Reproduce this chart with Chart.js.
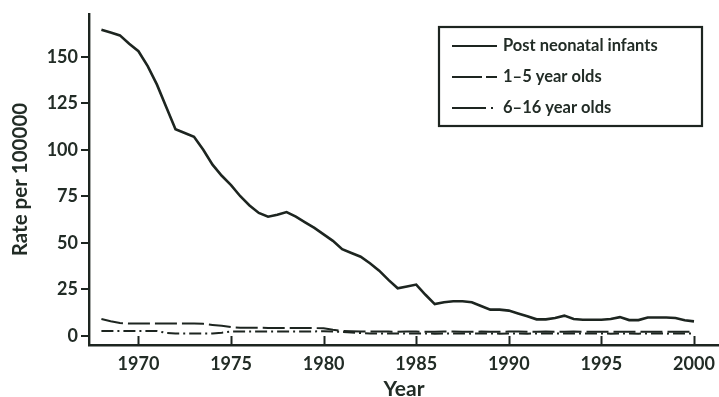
<!DOCTYPE html>
<html>
<head>
<meta charset="utf-8">
<script src="https://cdn.jsdelivr.net/npm/chart.js@4"></script>
<style>
  html, body { margin: 0; padding: 0; background: #ffffff; }
  #wrap { width: 719px; height: 397px; position: relative; }
</style>
</head>
<body>
<div id="wrap"><canvas id="c" width="719" height="397"></canvas></div>
<script>
// Half-yearly time points
const years = [
  1968.0, 1968.5, 1969.0, 1969.5, 1970.0, 1970.5, 1971.0, 1971.5, 1972.0, 1972.5,
  1973.0, 1973.5, 1974.0, 1974.5, 1975.0, 1975.5, 1976.0, 1976.5, 1977.0, 1977.5,
  1978.0, 1978.5, 1979.0, 1979.5, 1980.0, 1980.5, 1981.0, 1981.5, 1982.0, 1982.5,
  1983.0, 1983.5, 1984.0, 1984.5, 1985.0, 1985.5, 1986.0, 1986.5, 1987.0, 1987.5,
  1988.0, 1988.5, 1989.0, 1989.5, 1990.0, 1990.5, 1991.0, 1991.5, 1992.0, 1992.5,
  1993.0, 1993.5, 1994.0, 1994.5, 1995.0, 1995.5, 1996.0, 1996.5, 1997.0, 1997.5,
  1998.0, 1998.5, 1999.0, 1999.5, 2000.0
];

// Rate per 100000
const postNeonatal = [
  164.5, 163, 161.5, 157, 153, 145, 135, 123, 111, 109,
  107, 100, 92, 86, 81, 75, 70, 66, 64, 65,
  66.5, 64, 61, 58, 54.5, 51, 46.5, 44.5, 42.5, 39,
  35, 30, 25.5, 26.5, 27.5, 22, 17, 18, 18.5, 18.5,
  18, 16, 14, 14, 13.5, 12, 10.5, 8.8, 8.8, 9.5,
  10.8, 9, 8.6, 8.6, 8.6, 9, 10, 8.4, 8.4, 9.8,
  9.8, 9.8, 9.5, 8.3, 7.7
];

const oneToFive = [
  9, 7.8, 6.8, 6.5, 6.5, 6.5, 6.5, 6.5, 6.5, 6.5,
  6.5, 6.4, 5.8, 5.3, 4.6, 4.3, 4.3, 4.3, 4.2, 4.2,
  4.2, 4.2, 4.1, 4.1, 4.0, 3.2, 2.6, 2.4, 2.3, 2.2,
  2.2, 2.2, 2.1, 2.2, 2.2, 2.1, 2.1, 2.2, 2.2, 2.1,
  2.1, 2.2, 2.1, 2.1, 2.2, 2.2, 2.1, 2.1, 2.2, 2.1,
  2.1, 2.2, 2.1, 2.1, 2.1, 2.2, 2.1, 2.1, 2.2, 2.1,
  2.1, 2.2, 2.1, 2.1, 2.2
];

const sixToSixteen = [
  2.5, 2.5, 2.5, 2.5, 2.5, 2.5, 2.5, 1.5, 1.2, 1.2,
  1.2, 1.2, 1.2, 1.6, 2.2, 2.2, 2.2, 2.2, 2.2, 2.2,
  2.2, 2.2, 2.2, 2.3, 2.4, 2.3, 2.0, 1.7, 1.4, 1.2,
  1.2, 1.2, 1.2, 1.1, 1.2, 1.2, 1.1, 1.2, 1.2, 1.2,
  1.1, 1.2, 1.2, 1.1, 1.2, 1.2, 1.1, 1.2, 1.2, 1.1,
  1.2, 1.2, 1.1, 1.2, 1.2, 1.1, 1.2, 1.2, 1.1, 1.2,
  1.2, 1.1, 1.2, 1.2, 1.2
];

const seriesLabels = ['Post neonatal infants', '1\u20135 year olds', '6\u201316 year olds'];
const xTicks = [1970, 1975, 1980, 1985, 1990, 1995, 2000];
const yTicks = [0, 25, 50, 75, 100, 125, 150];

const INK = '#1d2520';
const TEXT = '#222c26';
const FONT = 'Lato, "Open Sans", sans-serif';

const toPoints = (vals) => vals.map((v, i) => ({ x: years[i], y: v }));

// Upward tick marks on the year axis
const innerXTicks = {
  id: 'innerXTicks',
  afterDatasetsDraw(chart) {
    const { ctx, chartArea } = chart;
    const xs = chart.scales.x;
    ctx.save();
    ctx.strokeStyle = INK;
    ctx.lineWidth = 2;
    xTicks.forEach(v => {
      const px = Math.round(xs.getPixelForValue(v)) + 0.5;
      ctx.beginPath();
      ctx.moveTo(px, chartArea.bottom);
      ctx.lineTo(px, chartArea.bottom - 9);
      ctx.stroke();
    });
    ctx.restore();
  }
};

// Boxed legend in the upper right
const boxLegend = {
  id: 'boxLegend',
  afterDraw(chart) {
    const { ctx } = chart;
    const bx = 439, by = 27, bw = 263, bh = 99;
    ctx.save();
    ctx.fillStyle = '#ffffff';
    ctx.fillRect(bx, by, bw, bh);
    ctx.strokeStyle = INK;
    ctx.lineWidth = 2.2;
    ctx.strokeRect(bx, by, bw, bh);
    const rows = [46, 77, 108];
    const samples = [[], [30, 4, 10, 0], [34, 5, 2, 30]];
    chart.data.datasets.forEach((ds, i) => {
      const y = rows[i];
      ctx.strokeStyle = INK;
      ctx.lineWidth = 2.2;
      ctx.setLineDash(samples[i]);
      ctx.beginPath();
      ctx.moveTo(452, y);
      ctx.lineTo(497, y);
      ctx.stroke();
      ctx.setLineDash([]);
      ctx.fillStyle = TEXT;
      ctx.font = 'bold 16.5px ' + FONT;
      ctx.textBaseline = 'middle';
      ctx.textAlign = 'left';
      ctx.fillText(ds.label, 503, y);
    });
    ctx.restore();
  }
};

new Chart(document.getElementById('c'), {
  type: 'line',
  data: {
    datasets: [
      {
        label: seriesLabels[0],
        data: toPoints(postNeonatal),
        borderColor: INK,
        borderWidth: 2.6,
        pointRadius: 0,
        tension: 0,
        fill: false
      },
      {
        label: seriesLabels[1],
        data: toPoints(oneToFive),
        borderColor: INK,
        borderWidth: 2,
        borderDash: [22, 5],
        pointRadius: 0,
        tension: 0,
        fill: false
      },
      {
        label: seriesLabels[2],
        data: toPoints(sixToSixteen),
        borderColor: INK,
        borderWidth: 2,
        borderDash: [12, 4, 2, 4],
        pointRadius: 0,
        tension: 0,
        fill: false
      }
    ]
  },
  options: {
    responsive: false,
    animation: false,
    events: [],
    layout: { padding: { top: 14, right: 0, bottom: 0, left: 0 } },
    plugins: {
      legend: { display: false },
      tooltip: { enabled: false }
    },
    scales: {
      x: {
        type: 'linear',
        min: 1967.33,
        max: 2001.35,
        afterBuildTicks(scale) { scale.ticks = xTicks.map(v => ({ value: v })); },
        afterFit(scale) {
          scale.height = 52;
          scale.paddingLeft = 0;
          scale.paddingRight = 0;
        },
        border: { display: true, color: INK, width: 2.4 },
        grid: { display: true, drawOnChartArea: false, drawTicks: false, color: 'rgba(0,0,0,0)' },
        ticks: {
          color: TEXT,
          padding: 8,
          maxRotation: 0,
          autoSkip: false,
          font: { family: FONT, size: 18, weight: 'bold' },
          callback: (v) => String(v)
        },
        title: {
          display: true,
          text: 'Year',
          color: TEXT,
          font: { family: FONT, size: 21, weight: 'bold', lineHeight: 0.7 },
          padding: { top: 0, bottom: 0 }
        }
      },
      y: {
        type: 'linear',
        min: -5,
        max: 173,
        afterBuildTicks(scale) { scale.ticks = yTicks.map(v => ({ value: v })); },
        afterFit(scale) { scale.width = 89; },
        border: { display: true, color: INK, width: 2.4 },
        grid: { display: true, drawOnChartArea: false, drawTicks: true, tickLength: 8, color: INK, lineWidth: 2 },
        ticks: {
          color: TEXT,
          padding: 3,
          autoSkip: false,
          font: { family: FONT, size: 18, weight: 'bold' },
          callback: (v) => String(v)
        },
        title: {
          display: true,
          text: 'Rate per 100000',
          color: TEXT,
          font: { family: FONT, size: 20.5, weight: 'bold' },
          padding: { top: 8, bottom: 0 }
        }
      }
    }
  },
  plugins: [innerXTicks, boxLegend]
});
</script>
</body>
</html>
